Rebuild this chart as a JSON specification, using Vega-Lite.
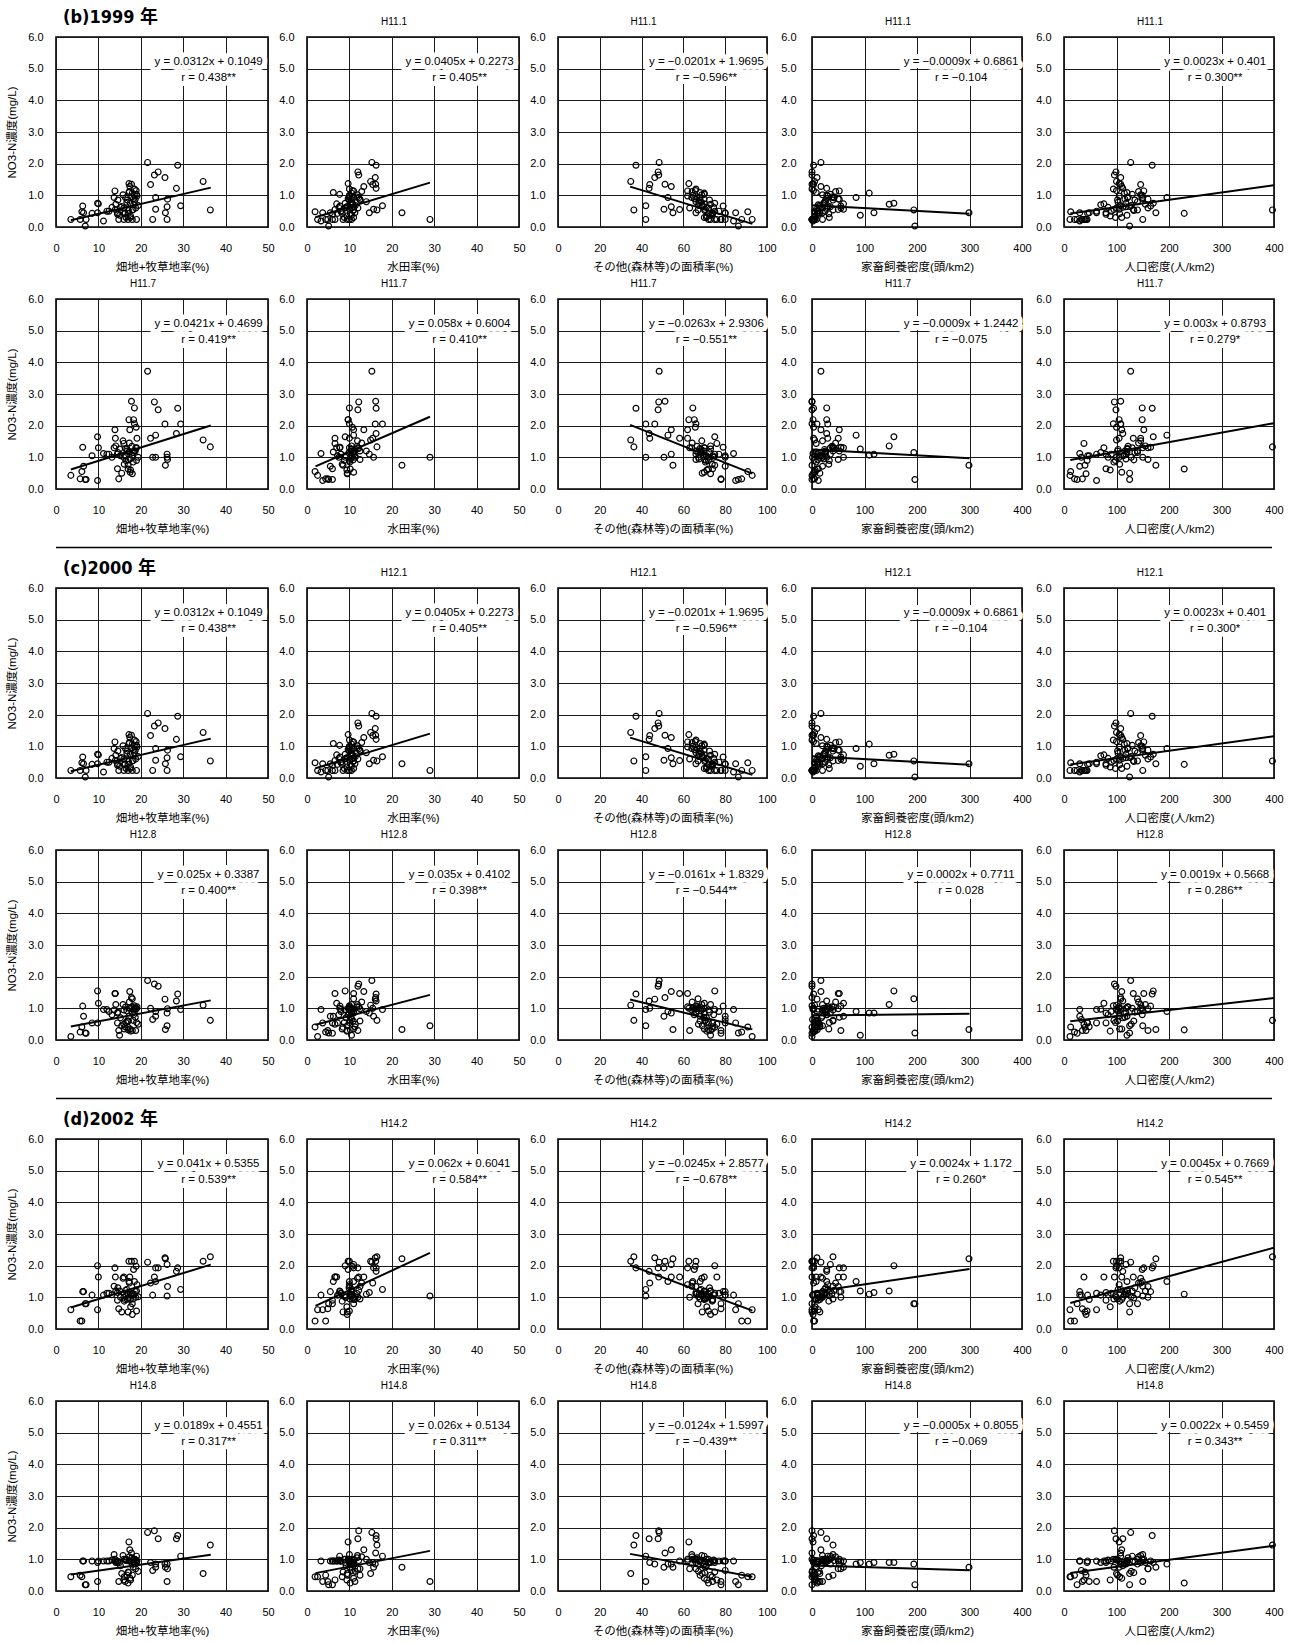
{
"$schema":"https://vega.github.io/schema/vega-lite/v6.json",
"padding":{"left":6,"top":8,"right":4,"bottom":0},
"data":{"values":[
{"f":21.6,"w":15.3,"o":48.4,"l":17,"h":127,"p1":2.04,"p2":3.72,"p3":2.04,"p4":1.88,"p5":2.11,"p6":1.85},
{"f":28.7,"w":16.3,"o":37.3,"l":3,"h":168,"p1":1.95,"p2":2.55,"p3":1.95,"p4":1.45,"p5":1.93,"p6":1.75},
{"f":24.1,"w":12,"o":47.9,"l":0,"h":99,"p1":1.74,"p2":2.5,"p3":1.74,"p4":1.7,"p5":1.93,"p6":1.65},
{"f":23.2,"w":12.2,"o":48.2,"l":0,"h":96,"p1":1.64,"p2":2.75,"p3":1.64,"p4":1.77,"p5":1.64,"p6":1.9},
{"f":25.7,"w":16.1,"o":46.3,"l":9.5,"h":108,"p1":1.56,"p2":2.05,"p3":1.56,"p4":1.29,"p5":2.25,"p6":0.85},
{"f":34.7,"w":15,"o":34.8,"l":5,"h":100,"p1":1.44,"p2":1.55,"p3":1.44,"p4":1.1,"p5":2.14,"p6":0.55},
{"f":36.4,"w":16.5,"o":36.3,"l":40,"h":397,"p1":0.54,"p2":1.33,"p3":0.54,"p4":0.62,"p5":2.28,"p6":1.45},
{"f":22.3,"w":15.5,"o":43.9,"l":3,"h":146,"p1":1.34,"p2":1.6,"p3":1.34,"p4":1.0,"p5":1.45,"p6":0.9},
{"f":28.4,"w":16.3,"o":43.6,"l":28,"h":112,"p1":1.22,"p2":1.75,"p3":1.22,"p4":1.23,"p5":1.82,"p6":1.65},
{"f":29.4,"w":17.8,"o":42,"l":30,"h":108,"p1":0.67,"p2":2.05,"p3":0.67,"p4":0.96,"p5":1.25,"p6":1.1},
{"f":26.2,"w":29,"o":42,"l":20,"h":150,"p1":0.24,"p2":1.0,"p3":0.24,"p4":0.45,"p5":1.04,"p6":0.3},
{"f":25.8,"w":22.4,"o":55,"l":299,"h":175,"p1":0.45,"p2":0.75,"p3":0.45,"p4":0.33,"p5":2.22,"p6":0.75},
{"f":17,"w":10.2,"o":72,"l":10,"h":229,"p1":0.43,"p2":0.63,"p3":0.43,"p4":0.32,"p5":1.1,"p6":0.25},
{"f":6.9,"w":5.1,"o":86.3,"l":196,"h":125,"p1":0.03,"p2":0.3,"p3":0.03,"p4":0.22,"p5":0.8,"p6":0.2},
{"f":18,"w":11,"o":67,"l":194,"h":140,"p1":0.54,"p2":1.15,"p3":0.54,"p4":1.3,"p5":0.8,"p6":0.85},
{"f":14.1,"w":10.5,"o":73,"l":147,"h":155,"p1":0.72,"p2":1.36,"p3":0.72,"p4":1.12,"p5":1.2,"p6":0.9},
{"f":9.8,"w":9,"o":75,"l":156,"h":170,"p1":0.75,"p2":1.65,"p3":0.75,"p4":1.55,"p5":2.0,"p6":0.9},
{"f":23.5,"w":11,"o":52.6,"l":84,"h":196,"p1":0.93,"p2":1.7,"p3":0.93,"p4":0.9,"p5":1.5,"p6":0.85},
{"f":15,"w":10.5,"o":73,"l":92,"h":120,"p1":0.37,"p2":1.26,"p3":0.37,"p4":0.15,"p5":1.2,"p6":0.9},
{"f":18,"w":10.5,"o":70,"l":109,"h":115,"p1":1.07,"p2":1.07,"p3":1.07,"p4":0.85,"p5":1.1,"p6":0.85},
{"f":14.5,"w":14.7,"o":66,"l":118,"h":80,"p1":0.45,"p2":1.1,"p3":0.45,"p4":0.85,"p5":1.15,"p6":0.9},
{"f":17.2,"w":9.7,"o":62.6,"l":2,"h":105,"p1":1.37,"p2":2.19,"p3":1.37,"p4":1.0,"p5":2.14,"p6":1.55},
{"f":17.4,"w":13.4,"o":54.2,"l":17,"h":110,"p1":1.28,"p2":1.87,"p3":1.28,"p4":1.53,"p5":1.64,"p6":1.3},
{"f":13.9,"w":11,"o":62,"l":52,"h":152,"p1":1.14,"p2":1.87,"p3":1.14,"p4":1.47,"p5":1.93,"p6":1.0},
{"f":17.2,"w":6.2,"o":68,"l":8,"h":120,"p1":1.09,"p2":1.17,"p3":1.09,"p4":0.75,"p5":1.5,"p6":0.95},
{"f":19,"w":7.7,"o":70,"l":35,"h":130,"p1":1.03,"p2":1.3,"p3":1.03,"p4":1.0,"p5":1.2,"p6":1.1},
{"f":19.1,"w":10,"o":62,"l":30,"h":105,"p1":0.98,"p2":1.6,"p3":0.98,"p4":1.05,"p5":1.4,"p6":0.95},
{"f":13.7,"w":10,"o":64,"l":40,"h":150,"p1":0.93,"p2":1.3,"p3":0.93,"p4":0.95,"p5":1.35,"p6":1.15},
{"f":26.3,"w":12.5,"o":66,"l":50,"h":160,"p1":0.88,"p2":0.93,"p3":0.88,"p4":0.99,"p5":1.34,"p6":0.7},
{"f":18.5,"w":14,"o":66,"l":25,"h":140,"p1":0.8,"p2":1.2,"p3":0.8,"p4":0.9,"p5":1.1,"p6":1.0},
{"f":6.3,"w":7.8,"o":79,"l":55,"h":165,"p1":0.66,"p2":1.32,"p3":0.66,"p4":1.07,"p5":1.18,"p6":0.95},
{"f":26.2,"w":11,"o":54.2,"l":35,"h":118,"p1":0.64,"p2":1.1,"p3":0.64,"p4":0.85,"p5":2.04,"p6":0.85},
{"f":16,"w":9,"o":72,"l":20,"h":100,"p1":0.6,"p2":1.0,"p3":0.6,"p4":0.95,"p5":1.0,"p6":1.0},
{"f":23.5,"w":15.7,"o":50.7,"l":60,"h":105,"p1":0.56,"p2":1.0,"p3":0.56,"p4":0.75,"p5":1.93,"p6":0.75},
{"f":12.5,"w":8,"o":77,"l":10,"h":90,"p1":0.5,"p2":1.1,"p3":0.5,"p4":0.9,"p5":1.13,"p6":0.95},
{"f":6.1,"w":1.9,"o":90.8,"l":5,"h":12.7,"p1":0.48,"p2":0.55,"p3":0.48,"p4":0.41,"p5":0.25,"p6":0.45},
{"f":9.8,"w":3.7,"o":85,"l":12,"h":62,"p1":0.45,"p2":0.27,"p3":0.45,"p4":0.54,"p5":0.61,"p6":0.3},
{"f":14.5,"w":6,"o":74,"l":12,"h":80,"p1":0.4,"p2":0.64,"p3":0.4,"p4":0.54,"p5":0.91,"p6":0.95},
{"f":17.5,"w":11,"o":70,"l":6,"h":110,"p1":0.3,"p2":0.53,"p3":0.3,"p4":0.35,"p5":0.93,"p6":0.4},
{"f":3.5,"w":2.5,"o":92.9,"l":0,"h":11.4,"p1":0.24,"p2":0.43,"p3":0.24,"p4":0.11,"p5":0.61,"p6":0.45},
{"f":5.7,"w":4.4,"o":87.9,"l":3,"h":20,"p1":0.24,"p2":0.32,"p3":0.24,"p4":0.25,"p5":0.25,"p6":0.5},
{"f":7.1,"w":6,"o":78,"l":0,"h":25,"p1":0.24,"p2":0.3,"p3":0.24,"p4":0.21,"p5":0.8,"p6":0.2},
{"f":11.2,"w":3.3,"o":84,"l":2,"h":30,"p1":0.19,"p2":1.12,"p3":0.19,"p4":0.96,"p5":1.07,"p6":0.95},
{"f":14.8,"w":4.9,"o":78,"l":5,"h":35,"p1":0.24,"p2":0.32,"p3":0.24,"p4":0.3,"p5":0.64,"p6":0.3},
{"f":16,"w":6.6,"o":76,"l":8,"h":38,"p1":0.24,"p2":1.44,"p3":0.24,"p4":0.5,"p5":1.64,"p6":0.35},
{"f":17,"w":8.5,"o":75,"l":0,"h":40,"p1":0.24,"p2":0.75,"p3":0.24,"p4":0.4,"p5":0.54,"p6":0.6},
{"f":18,"w":9.5,"o":73,"l":2,"h":42,"p1":0.24,"p2":0.48,"p3":0.24,"p4":0.3,"p5":0.46,"p6":0.5},
{"f":19,"w":10,"o":72,"l":4,"h":44,"p1":0.24,"p2":0.9,"p3":0.24,"p4":0.55,"p5":0.57,"p6":0.9},
{"f":22.8,"w":10.5,"o":80,"l":1,"h":33,"p1":0.24,"p2":1.0,"p3":0.24,"p4":0.65,"p5":1.07,"p6":0.65},
{"f":16.3,"w":11.3,"o":74,"l":15,"h":48,"p1":0.45,"p2":1.05,"p3":0.45,"p4":0.42,"p5":0.93,"p6":0.3},
{"f":18.3,"w":10.8,"o":69,"l":12,"h":70,"p1":0.7,"p2":1.15,"p3":0.7,"p4":0.97,"p5":1.07,"p6":0.9},
{"f":17.8,"w":16.2,"o":51.2,"l":0,"h":108,"p1":1.35,"p2":2.77,"p3":1.35,"p4":1.34,"p5":2.14,"p6":1.2},
{"f":18.5,"w":10,"o":64.5,"l":28,"h":149,"p1":1.0,"p2":2.56,"p3":1.0,"p4":1.0,"p5":1.5,"p6":1.0},
{"f":18.3,"w":9.7,"o":65.2,"l":28,"h":149,"p1":0.9,"p2":2.19,"p3":0.9,"p4":0.8,"p5":1.88,"p6":1.0},
{"f":18.5,"w":10,"o":66,"l":0,"h":94,"p1":1.2,"p2":2.06,"p3":1.2,"p4":1.08,"p5":2.14,"p6":1.0},
{"f":14,"w":6.6,"o":58.2,"l":50,"h":132,"p1":0.55,"p2":1.6,"p3":0.55,"p4":1.47,"p5":1.64,"p6":0.95},
{"f":10,"w":7,"o":70,"l":60,"h":76,"p1":0.73,"p2":1.3,"p3":0.73,"p4":1.16,"p5":1.64,"p6":0.95},
{"f":6.5,"w":5.5,"o":80,"l":20,"h":30,"p1":0.45,"p2":0.72,"p3":0.45,"p4":0.75,"p5":1.18,"p6":0.95},
{"f":12,"w":8,"o":75,"l":25,"h":62,"p1":0.5,"p2":1.1,"p3":0.5,"p4":0.96,"p5":1.13,"p6":0.95},
{"f":16.8,"w":12.5,"o":68,"l":40,"h":102,"p1":0.85,"p2":1.2,"p3":0.85,"p4":0.6,"p5":0.95,"p6":0.5},
{"f":15.5,"w":9.5,"o":69,"l":15,"h":125,"p1":0.65,"p2":0.5,"p3":0.65,"p4":0.45,"p5":0.54,"p6":0.55},
{"f":17.5,"w":10.3,"o":67.5,"l":22,"h":118,"p1":0.75,"p2":0.95,"p3":0.75,"p4":1.0,"p5":1.1,"p6":0.95},
{"f":18.8,"w":12,"o":63,"l":55,"h":160,"p1":0.6,"p2":1.3,"p3":0.6,"p4":0.3,"p5":1.0,"p6":0.7},
{"f":16.5,"w":8.8,"o":71,"l":33,"h":98,"p1":0.3,"p2":0.9,"p3":0.3,"p4":0.55,"p5":1.05,"p6":1.0},
{"f":8.5,"w":7.2,"o":80,"l":10,"h":45,"p1":0.43,"p2":1.05,"p3":0.43,"p4":0.54,"p5":1.07,"p6":0.95},
{"f":15.2,"w":9.2,"o":71,"l":18,"h":112,"p1":0.62,"p2":1.05,"p3":0.62,"p4":0.7,"p5":1.0,"p6":0.8},
{"f":16.7,"w":10.6,"o":68.5,"l":24,"h":103,"p1":0.78,"p2":1.25,"p3":0.78,"p4":0.92,"p5":1.25,"p6":0.98},
{"f":17.9,"w":11.8,"o":66.5,"l":38,"h":122,"p1":0.95,"p2":1.35,"p3":0.95,"p4":1.05,"p5":1.12,"p6":1.05},
{"f":18.2,"w":10.1,"o":70.5,"l":8,"h":95,"p1":0.55,"p2":0.85,"p3":0.55,"p4":0.62,"p5":0.95,"p6":0.75},
{"f":14.6,"w":9.9,"o":72.5,"l":26,"h":135,"p1":0.85,"p2":1.15,"p3":0.85,"p4":0.88,"p5":1.3,"p6":0.92},
{"f":17.3,"w":12.9,"o":64.2,"l":45,"h":142,"p1":1.12,"p2":1.45,"p3":1.12,"p4":1.2,"p5":1.45,"p6":1.08},
{"f":19.4,"w":11.4,"o":67.2,"l":14,"h":128,"p1":0.68,"p2":1.0,"p3":0.68,"p4":0.5,"p5":1.02,"p6":0.62},
{"f":16.1,"w":8.3,"o":73.8,"l":32,"h":106,"p1":0.42,"p2":0.78,"p3":0.42,"p4":0.35,"p5":0.88,"p6":0.45},
{"f":18.7,"w":10.4,"o":69.8,"l":52,"h":116,"p1":0.88,"p2":1.2,"p3":0.88,"p4":0.72,"p5":1.18,"p6":0.85},
{"f":17.6,"w":9.4,"o":71.2,"l":6,"h":88,"p1":0.35,"p2":0.6,"p3":0.35,"p4":0.28,"p5":0.7,"p6":0.35},
{"f":15.8,"w":11.9,"o":68.8,"l":20,"h":146,"p1":1.02,"p2":1.52,"p3":1.02,"p4":1.12,"p5":1.6,"p6":1.12},
{"f":18.9,"w":10.7,"o":65.7,"l":3,"h":100,"p1":1.15,"p2":1.95,"p3":1.15,"p4":0.98,"p5":1.98,"p6":0.98},
{"f":13.2,"w":7.5,"o":74.5,"l":28,"h":84,"p1":0.62,"p2":1.0,"p3":0.62,"p4":0.8,"p5":1.08,"p6":0.98},
{"f":17.1,"w":10.9,"o":70.2,"l":11,"h":133,"p1":0.52,"p2":0.92,"p3":0.52,"p4":0.6,"p5":0.98,"p6":0.58},
{"f":16.4,"w":12.2,"o":67.9,"l":42,"h":121,"p1":0.92,"p2":1.28,"p3":0.92,"p4":1.04,"p5":1.22,"p6":0.96},
{"t":"L","f":3.5,"p1":0.214},{"t":"L","f":36.5,"p1":1.244},{"t":"L","w":2,"p1":0.308},{"t":"L","w":29,"p1":1.402},{"t":"L","o":34.5,"p1":1.276},{"t":"L","o":93,"p1":0.1},{"t":"L","l":0,"p1":0.686},{"t":"L","l":300,"p1":0.416},{"t":"L","h":12,"p1":0.429},{"t":"L","h":400,"p1":1.321},
{"t":"L","f":3.5,"p2":0.617},{"t":"L","f":36.5,"p2":2.007},{"t":"L","w":2,"p2":0.716},{"t":"L","w":29,"p2":2.282},{"t":"L","o":34.5,"p2":2.023},{"t":"L","o":93,"p2":0.485},{"t":"L","l":0,"p2":1.244},{"t":"L","l":300,"p2":0.974},{"t":"L","h":12,"p2":0.915},{"t":"L","h":400,"p2":2.079},
{"t":"L","f":3.5,"p3":0.214},{"t":"L","f":36.5,"p3":1.244},{"t":"L","w":2,"p3":0.308},{"t":"L","w":29,"p3":1.402},{"t":"L","o":34.5,"p3":1.276},{"t":"L","o":93,"p3":0.1},{"t":"L","l":0,"p3":0.686},{"t":"L","l":300,"p3":0.416},{"t":"L","h":12,"p3":0.429},{"t":"L","h":400,"p3":1.321},
{"t":"L","f":3.5,"p4":0.426},{"t":"L","f":36.5,"p4":1.251},{"t":"L","w":2,"p4":0.48},{"t":"L","w":29,"p4":1.425},{"t":"L","o":34.5,"p4":1.278},{"t":"L","o":93,"p4":0.336},{"t":"L","l":0,"p4":0.771},{"t":"L","l":300,"p4":0.831},{"t":"L","h":12,"p4":0.59},{"t":"L","h":400,"p4":1.327},
{"t":"L","f":3.5,"p5":0.679},{"t":"L","f":36.5,"p5":2.032},{"t":"L","w":2,"p5":0.728},{"t":"L","w":29,"p5":2.402},{"t":"L","o":34.5,"p5":2.012},{"t":"L","o":93,"p5":0.579},{"t":"L","l":0,"p5":1.172},{"t":"L","l":300,"p5":1.892},{"t":"L","h":12,"p5":0.821},{"t":"L","h":400,"p5":2.567},
{"t":"L","f":3.5,"p6":0.521},{"t":"L","f":36.5,"p6":1.145},{"t":"L","w":2,"p6":0.565},{"t":"L","w":29,"p6":1.267},{"t":"L","o":34.5,"p6":1.172},{"t":"L","o":93,"p6":0.447},{"t":"L","l":0,"p6":0.806},{"t":"L","l":300,"p6":0.656},{"t":"L","h":12,"p6":0.572},{"t":"L","h":400,"p6":1.426},
{"t":"E","v":"f","p1":"y = 0.0312x + 0.1049\nr = 0.438**"},{"t":"E","v":"w","p1":"y = 0.0405x + 0.2273\nr = 0.405**"},{"t":"E","v":"o","p1":"y = −0.0201x + 1.9695\nr = −0.596**"},{"t":"E","v":"l","p1":"y = −0.0009x + 0.6861\nr = −0.104"},{"t":"E","v":"h","p1":"y = 0.0023x + 0.401\nr = 0.300**"},
{"t":"E","v":"f","p2":"y = 0.0421x + 0.4699\nr = 0.419**"},{"t":"E","v":"w","p2":"y = 0.058x + 0.6004\nr = 0.410**"},{"t":"E","v":"o","p2":"y = −0.0263x + 2.9306\nr = −0.551**"},{"t":"E","v":"l","p2":"y = −0.0009x + 1.2442\nr = −0.075"},{"t":"E","v":"h","p2":"y = 0.003x + 0.8793\nr = 0.279*"},
{"t":"E","v":"f","p3":"y = 0.0312x + 0.1049\nr = 0.438**"},{"t":"E","v":"w","p3":"y = 0.0405x + 0.2273\nr = 0.405**"},{"t":"E","v":"o","p3":"y = −0.0201x + 1.9695\nr = −0.596**"},{"t":"E","v":"l","p3":"y = −0.0009x + 0.6861\nr = −0.104"},{"t":"E","v":"h","p3":"y = 0.0023x + 0.401\nr = 0.300*"},
{"t":"E","v":"f","p4":"y = 0.025x + 0.3387\nr = 0.400**"},{"t":"E","v":"w","p4":"y = 0.035x + 0.4102\nr = 0.398**"},{"t":"E","v":"o","p4":"y = −0.0161x + 1.8329\nr = −0.544**"},{"t":"E","v":"l","p4":"y = 0.0002x + 0.7711\nr = 0.028"},{"t":"E","v":"h","p4":"y = 0.0019x + 0.5668\nr = 0.286**"},
{"t":"E","v":"f","p5":"y = 0.041x + 0.5355\nr = 0.539**"},{"t":"E","v":"w","p5":"y = 0.062x + 0.6041\nr = 0.584**"},{"t":"E","v":"o","p5":"y = −0.0245x + 2.8577\nr = −0.678**"},{"t":"E","v":"l","p5":"y = 0.0024x + 1.172\nr = 0.260*"},{"t":"E","v":"h","p5":"y = 0.0045x + 0.7669\nr = 0.545**"},
{"t":"E","v":"f","p6":"y = 0.0189x + 0.4551\nr = 0.317**"},{"t":"E","v":"w","p6":"y = 0.026x + 0.5134\nr = 0.311**"},{"t":"E","v":"o","p6":"y = −0.0124x + 1.5997\nr = −0.439**"},{"t":"E","v":"l","p6":"y = −0.0005x + 0.8055\nr = −0.069"},{"t":"E","v":"h","p6":"y = 0.0022x + 0.5459\nr = 0.343**"},
{"t":"T","p1":"H11.1"},{"t":"T","p2":"H11.7"},{"t":"T","p3":"H12.1"},{"t":"T","p4":"H12.8"},{"t":"T","p5":"H14.2"},{"t":"T","p6":"H14.8"},
{"t":"S","p1":"(b)1999 年"},{"t":"S","p3":"(c)2000 年"},{"t":"S","p5":"(d)2002 年"}
]},
"transform":[{"fold":["p1","p2","p3","p4","p5","p6"],"as":["g","y"]},{"filter":"isValid(datum.y)"}],
"spacing":10,
"vconcat":[
{"transform":[{"filter":{"field":"g","oneOf":["p1","p2"]}}],"spacing":3,"hconcat":[
{"facet":{"row":{"field":"g","header":null}},"spacing":4,"resolve":{"axis":{"x":"independent"}},"spec":{"width":212,"height":190,"layer":[
{"transform":[{"filter":"!datum.t"}],"mark":"point","encoding":{"x":{"field":"f","type":"quantitative","scale":{"domain":[0,50]},"title":"畑地+牧草地率(%)"},"y":{"field":"y","type":"quantitative","scale":{"domain":[0,6]},"axis":{"format":".1f"},"title":"NO3-N濃度(mg/L)"}}},
{"transform":[{"filter":"datum.t=='L'&&isValid(datum.f)"}],"mark":"line","encoding":{"x":{"field":"f","type":"quantitative"},"y":{"field":"y","type":"quantitative"}}},
{"transform":[{"filter":"datum.t=='E'&&datum.v=='f'"}],"mark":{"type":"text","fill":"#fff","stroke":"#fff","strokeWidth":10,"strokeJoin":"round"},"encoding":{"x":{"datum":36},"y":{"datum":5.2},"text":{"field":"y"}}},
{"transform":[{"filter":"datum.t=='E'&&datum.v=='f'"}],"mark":"text","encoding":{"x":{"datum":36},"y":{"datum":5.2},"text":{"field":"y"}}},
{"transform":[{"filter":"datum.t=='T'&&indexof(['p1','p3','p5'],datum.g)<0"}],"mark":{"type":"text","fontSize":10,"dx":-19,"dy":-15},"encoding":{"x":{"datum":25},"y":{"datum":6},"text":{"field":"y"}}},
{"transform":[{"filter":"datum.t=='S'"}],"mark":{"type":"text","font":"Liberation Sans Narrow, DejaVu Sans Condensed, Noto Sans CJK JP","fontSize":18,"fontWeight":"bold","align":"left","dx":7,"dy":-19},"encoding":{"x":{"datum":0},"y":{"datum":6},"text":{"field":"y"}}}]}},
{"facet":{"row":{"field":"g","header":null}},"spacing":4,"resolve":{"axis":{"x":"independent"}},"spec":{"width":212,"height":190,"layer":[
{"transform":[{"filter":"!datum.t"}],"mark":"point","encoding":{"x":{"field":"w","type":"quantitative","scale":{"domain":[0,50]},"title":"水田率(%)"},"y":{"field":"y","type":"quantitative","scale":{"domain":[0,6]},"axis":{"format":".1f"},"title":null}}},
{"transform":[{"filter":"datum.t=='L'&&isValid(datum.w)"}],"mark":"line","encoding":{"x":{"field":"w","type":"quantitative"},"y":{"field":"y","type":"quantitative"}}},
{"transform":[{"filter":"datum.t=='E'&&datum.v=='w'"}],"mark":{"type":"text","fill":"#fff","stroke":"#fff","strokeWidth":10,"strokeJoin":"round"},"encoding":{"x":{"datum":36},"y":{"datum":5.2},"text":{"field":"y"}}},
{"transform":[{"filter":"datum.t=='E'&&datum.v=='w'"}],"mark":"text","encoding":{"x":{"datum":36},"y":{"datum":5.2},"text":{"field":"y"}}},
{"transform":[{"filter":"datum.t=='T'"}],"mark":{"type":"text","fontSize":10,"dx":-19,"dy":-15},"encoding":{"x":{"datum":25},"y":{"datum":6},"text":{"field":"y"}}}]}},
{"facet":{"row":{"field":"g","header":null}},"spacing":4,"resolve":{"axis":{"x":"independent"}},"spec":{"width":209,"height":190,"layer":[
{"transform":[{"filter":"!datum.t"}],"mark":"point","encoding":{"x":{"field":"o","type":"quantitative","scale":{"domain":[0,100]},"title":"その他(森林等)の面積率(%)"},"y":{"field":"y","type":"quantitative","scale":{"domain":[0,6]},"axis":{"format":".1f"},"title":null}}},
{"transform":[{"filter":"datum.t=='L'&&isValid(datum.o)"}],"mark":"line","encoding":{"x":{"field":"o","type":"quantitative"},"y":{"field":"y","type":"quantitative"}}},
{"transform":[{"filter":"datum.t=='E'&&datum.v=='o'"}],"mark":{"type":"text","fill":"#fff","stroke":"#fff","strokeWidth":10,"strokeJoin":"round"},"encoding":{"x":{"datum":71},"y":{"datum":5.2},"text":{"field":"y"}}},
{"transform":[{"filter":"datum.t=='E'&&datum.v=='o'"}],"mark":"text","encoding":{"x":{"datum":71},"y":{"datum":5.2},"text":{"field":"y"}}},
{"transform":[{"filter":"datum.t=='T'"}],"mark":{"type":"text","fontSize":10,"dx":-19,"dy":-15},"encoding":{"x":{"datum":50},"y":{"datum":6},"text":{"field":"y"}}}]}},
{"facet":{"row":{"field":"g","header":null}},"spacing":4,"resolve":{"axis":{"x":"independent"}},"spec":{"width":210,"height":190,"layer":[
{"transform":[{"filter":"!datum.t"}],"mark":"point","encoding":{"x":{"field":"l","type":"quantitative","scale":{"domain":[0,400]},"title":"家畜飼養密度(頭/km2)"},"y":{"field":"y","type":"quantitative","scale":{"domain":[0,6]},"axis":{"format":".1f"},"title":null}}},
{"transform":[{"filter":"datum.t=='L'&&isValid(datum.l)"}],"mark":"line","encoding":{"x":{"field":"l","type":"quantitative"},"y":{"field":"y","type":"quantitative"}}},
{"transform":[{"filter":"datum.t=='E'&&datum.v=='l'"}],"mark":{"type":"text","fill":"#fff","stroke":"#fff","strokeWidth":10,"strokeJoin":"round"},"encoding":{"x":{"datum":284},"y":{"datum":5.2},"text":{"field":"y"}}},
{"transform":[{"filter":"datum.t=='E'&&datum.v=='l'"}],"mark":"text","encoding":{"x":{"datum":284},"y":{"datum":5.2},"text":{"field":"y"}}},
{"transform":[{"filter":"datum.t=='T'"}],"mark":{"type":"text","fontSize":10,"dx":-19,"dy":-15},"encoding":{"x":{"datum":200},"y":{"datum":6},"text":{"field":"y"}}}]}},
{"facet":{"row":{"field":"g","header":null}},"spacing":4,"resolve":{"axis":{"x":"independent"}},"spec":{"width":210,"height":190,"layer":[
{"transform":[{"filter":"!datum.t"}],"mark":"point","encoding":{"x":{"field":"h","type":"quantitative","scale":{"domain":[0,400]},"title":"人口密度(人/km2)"},"y":{"field":"y","type":"quantitative","scale":{"domain":[0,6]},"axis":{"format":".1f"},"title":null}}},
{"transform":[{"filter":"datum.t=='L'&&isValid(datum.h)"}],"mark":"line","encoding":{"x":{"field":"h","type":"quantitative"},"y":{"field":"y","type":"quantitative"}}},
{"transform":[{"filter":"datum.t=='E'&&datum.v=='h'"}],"mark":{"type":"text","fill":"#fff","stroke":"#fff","strokeWidth":10,"strokeJoin":"round"},"encoding":{"x":{"datum":288},"y":{"datum":5.2},"text":{"field":"y"}}},
{"transform":[{"filter":"datum.t=='E'&&datum.v=='h'"}],"mark":"text","encoding":{"x":{"datum":288},"y":{"datum":5.2},"text":{"field":"y"}}},
{"transform":[{"filter":"datum.t=='T'"}],"mark":{"type":"text","fontSize":10,"dx":-19,"dy":-15},"encoding":{"x":{"datum":200},"y":{"datum":6},"text":{"field":"y"}}}]}}
]},
{"data":{"values":[{"k":0}]},"width":1216,"height":1,"view":{"stroke":null},"mark":{"type":"rule","color":"#000","strokeWidth":1.3},"encoding":{"y":{"field":"k","type":"quantitative","axis":null}}},
{"transform":[{"filter":{"field":"g","oneOf":["p3","p4"]}}],"spacing":3,"hconcat":[
{"facet":{"row":{"field":"g","header":null}},"spacing":4,"resolve":{"axis":{"x":"independent"}},"spec":{"width":212,"height":190,"layer":[
{"transform":[{"filter":"!datum.t"}],"mark":"point","encoding":{"x":{"field":"f","type":"quantitative","scale":{"domain":[0,50]},"title":"畑地+牧草地率(%)"},"y":{"field":"y","type":"quantitative","scale":{"domain":[0,6]},"axis":{"format":".1f"},"title":"NO3-N濃度(mg/L)"}}},
{"transform":[{"filter":"datum.t=='L'&&isValid(datum.f)"}],"mark":"line","encoding":{"x":{"field":"f","type":"quantitative"},"y":{"field":"y","type":"quantitative"}}},
{"transform":[{"filter":"datum.t=='E'&&datum.v=='f'"}],"mark":{"type":"text","fill":"#fff","stroke":"#fff","strokeWidth":10,"strokeJoin":"round"},"encoding":{"x":{"datum":36},"y":{"datum":5.2},"text":{"field":"y"}}},
{"transform":[{"filter":"datum.t=='E'&&datum.v=='f'"}],"mark":"text","encoding":{"x":{"datum":36},"y":{"datum":5.2},"text":{"field":"y"}}},
{"transform":[{"filter":"datum.t=='T'&&indexof(['p1','p3','p5'],datum.g)<0"}],"mark":{"type":"text","fontSize":10,"dx":-19,"dy":-15},"encoding":{"x":{"datum":25},"y":{"datum":6},"text":{"field":"y"}}},
{"transform":[{"filter":"datum.t=='S'"}],"mark":{"type":"text","font":"Liberation Sans Narrow, DejaVu Sans Condensed, Noto Sans CJK JP","fontSize":18,"fontWeight":"bold","align":"left","dx":7,"dy":-19},"encoding":{"x":{"datum":0},"y":{"datum":6},"text":{"field":"y"}}}]}},
{"facet":{"row":{"field":"g","header":null}},"spacing":4,"resolve":{"axis":{"x":"independent"}},"spec":{"width":212,"height":190,"layer":[
{"transform":[{"filter":"!datum.t"}],"mark":"point","encoding":{"x":{"field":"w","type":"quantitative","scale":{"domain":[0,50]},"title":"水田率(%)"},"y":{"field":"y","type":"quantitative","scale":{"domain":[0,6]},"axis":{"format":".1f"},"title":null}}},
{"transform":[{"filter":"datum.t=='L'&&isValid(datum.w)"}],"mark":"line","encoding":{"x":{"field":"w","type":"quantitative"},"y":{"field":"y","type":"quantitative"}}},
{"transform":[{"filter":"datum.t=='E'&&datum.v=='w'"}],"mark":{"type":"text","fill":"#fff","stroke":"#fff","strokeWidth":10,"strokeJoin":"round"},"encoding":{"x":{"datum":36},"y":{"datum":5.2},"text":{"field":"y"}}},
{"transform":[{"filter":"datum.t=='E'&&datum.v=='w'"}],"mark":"text","encoding":{"x":{"datum":36},"y":{"datum":5.2},"text":{"field":"y"}}},
{"transform":[{"filter":"datum.t=='T'"}],"mark":{"type":"text","fontSize":10,"dx":-19,"dy":-15},"encoding":{"x":{"datum":25},"y":{"datum":6},"text":{"field":"y"}}}]}},
{"facet":{"row":{"field":"g","header":null}},"spacing":4,"resolve":{"axis":{"x":"independent"}},"spec":{"width":209,"height":190,"layer":[
{"transform":[{"filter":"!datum.t"}],"mark":"point","encoding":{"x":{"field":"o","type":"quantitative","scale":{"domain":[0,100]},"title":"その他(森林等)の面積率(%)"},"y":{"field":"y","type":"quantitative","scale":{"domain":[0,6]},"axis":{"format":".1f"},"title":null}}},
{"transform":[{"filter":"datum.t=='L'&&isValid(datum.o)"}],"mark":"line","encoding":{"x":{"field":"o","type":"quantitative"},"y":{"field":"y","type":"quantitative"}}},
{"transform":[{"filter":"datum.t=='E'&&datum.v=='o'"}],"mark":{"type":"text","fill":"#fff","stroke":"#fff","strokeWidth":10,"strokeJoin":"round"},"encoding":{"x":{"datum":71},"y":{"datum":5.2},"text":{"field":"y"}}},
{"transform":[{"filter":"datum.t=='E'&&datum.v=='o'"}],"mark":"text","encoding":{"x":{"datum":71},"y":{"datum":5.2},"text":{"field":"y"}}},
{"transform":[{"filter":"datum.t=='T'"}],"mark":{"type":"text","fontSize":10,"dx":-19,"dy":-15},"encoding":{"x":{"datum":50},"y":{"datum":6},"text":{"field":"y"}}}]}},
{"facet":{"row":{"field":"g","header":null}},"spacing":4,"resolve":{"axis":{"x":"independent"}},"spec":{"width":210,"height":190,"layer":[
{"transform":[{"filter":"!datum.t"}],"mark":"point","encoding":{"x":{"field":"l","type":"quantitative","scale":{"domain":[0,400]},"title":"家畜飼養密度(頭/km2)"},"y":{"field":"y","type":"quantitative","scale":{"domain":[0,6]},"axis":{"format":".1f"},"title":null}}},
{"transform":[{"filter":"datum.t=='L'&&isValid(datum.l)"}],"mark":"line","encoding":{"x":{"field":"l","type":"quantitative"},"y":{"field":"y","type":"quantitative"}}},
{"transform":[{"filter":"datum.t=='E'&&datum.v=='l'"}],"mark":{"type":"text","fill":"#fff","stroke":"#fff","strokeWidth":10,"strokeJoin":"round"},"encoding":{"x":{"datum":284},"y":{"datum":5.2},"text":{"field":"y"}}},
{"transform":[{"filter":"datum.t=='E'&&datum.v=='l'"}],"mark":"text","encoding":{"x":{"datum":284},"y":{"datum":5.2},"text":{"field":"y"}}},
{"transform":[{"filter":"datum.t=='T'"}],"mark":{"type":"text","fontSize":10,"dx":-19,"dy":-15},"encoding":{"x":{"datum":200},"y":{"datum":6},"text":{"field":"y"}}}]}},
{"facet":{"row":{"field":"g","header":null}},"spacing":4,"resolve":{"axis":{"x":"independent"}},"spec":{"width":210,"height":190,"layer":[
{"transform":[{"filter":"!datum.t"}],"mark":"point","encoding":{"x":{"field":"h","type":"quantitative","scale":{"domain":[0,400]},"title":"人口密度(人/km2)"},"y":{"field":"y","type":"quantitative","scale":{"domain":[0,6]},"axis":{"format":".1f"},"title":null}}},
{"transform":[{"filter":"datum.t=='L'&&isValid(datum.h)"}],"mark":"line","encoding":{"x":{"field":"h","type":"quantitative"},"y":{"field":"y","type":"quantitative"}}},
{"transform":[{"filter":"datum.t=='E'&&datum.v=='h'"}],"mark":{"type":"text","fill":"#fff","stroke":"#fff","strokeWidth":10,"strokeJoin":"round"},"encoding":{"x":{"datum":288},"y":{"datum":5.2},"text":{"field":"y"}}},
{"transform":[{"filter":"datum.t=='E'&&datum.v=='h'"}],"mark":"text","encoding":{"x":{"datum":288},"y":{"datum":5.2},"text":{"field":"y"}}},
{"transform":[{"filter":"datum.t=='T'"}],"mark":{"type":"text","fontSize":10,"dx":-19,"dy":-15},"encoding":{"x":{"datum":200},"y":{"datum":6},"text":{"field":"y"}}}]}}
]},
{"data":{"values":[{"k":0}]},"width":1216,"height":1,"view":{"stroke":null},"mark":{"type":"rule","color":"#000","strokeWidth":1.3},"encoding":{"y":{"field":"k","type":"quantitative","axis":null}}},
{"transform":[{"filter":{"field":"g","oneOf":["p5","p6"]}}],"spacing":3,"hconcat":[
{"facet":{"row":{"field":"g","header":null}},"spacing":4,"resolve":{"axis":{"x":"independent"}},"spec":{"width":212,"height":190,"layer":[
{"transform":[{"filter":"!datum.t"}],"mark":"point","encoding":{"x":{"field":"f","type":"quantitative","scale":{"domain":[0,50]},"title":"畑地+牧草地率(%)"},"y":{"field":"y","type":"quantitative","scale":{"domain":[0,6]},"axis":{"format":".1f"},"title":"NO3-N濃度(mg/L)"}}},
{"transform":[{"filter":"datum.t=='L'&&isValid(datum.f)"}],"mark":"line","encoding":{"x":{"field":"f","type":"quantitative"},"y":{"field":"y","type":"quantitative"}}},
{"transform":[{"filter":"datum.t=='E'&&datum.v=='f'"}],"mark":{"type":"text","fill":"#fff","stroke":"#fff","strokeWidth":10,"strokeJoin":"round"},"encoding":{"x":{"datum":36},"y":{"datum":5.2},"text":{"field":"y"}}},
{"transform":[{"filter":"datum.t=='E'&&datum.v=='f'"}],"mark":"text","encoding":{"x":{"datum":36},"y":{"datum":5.2},"text":{"field":"y"}}},
{"transform":[{"filter":"datum.t=='T'&&indexof(['p1','p3','p5'],datum.g)<0"}],"mark":{"type":"text","fontSize":10,"dx":-19,"dy":-15},"encoding":{"x":{"datum":25},"y":{"datum":6},"text":{"field":"y"}}},
{"transform":[{"filter":"datum.t=='S'"}],"mark":{"type":"text","font":"Liberation Sans Narrow, DejaVu Sans Condensed, Noto Sans CJK JP","fontSize":18,"fontWeight":"bold","align":"left","dx":7,"dy":-19},"encoding":{"x":{"datum":0},"y":{"datum":6},"text":{"field":"y"}}}]}},
{"facet":{"row":{"field":"g","header":null}},"spacing":4,"resolve":{"axis":{"x":"independent"}},"spec":{"width":212,"height":190,"layer":[
{"transform":[{"filter":"!datum.t"}],"mark":"point","encoding":{"x":{"field":"w","type":"quantitative","scale":{"domain":[0,50]},"title":"水田率(%)"},"y":{"field":"y","type":"quantitative","scale":{"domain":[0,6]},"axis":{"format":".1f"},"title":null}}},
{"transform":[{"filter":"datum.t=='L'&&isValid(datum.w)"}],"mark":"line","encoding":{"x":{"field":"w","type":"quantitative"},"y":{"field":"y","type":"quantitative"}}},
{"transform":[{"filter":"datum.t=='E'&&datum.v=='w'"}],"mark":{"type":"text","fill":"#fff","stroke":"#fff","strokeWidth":10,"strokeJoin":"round"},"encoding":{"x":{"datum":36},"y":{"datum":5.2},"text":{"field":"y"}}},
{"transform":[{"filter":"datum.t=='E'&&datum.v=='w'"}],"mark":"text","encoding":{"x":{"datum":36},"y":{"datum":5.2},"text":{"field":"y"}}},
{"transform":[{"filter":"datum.t=='T'"}],"mark":{"type":"text","fontSize":10,"dx":-19,"dy":-15},"encoding":{"x":{"datum":25},"y":{"datum":6},"text":{"field":"y"}}}]}},
{"facet":{"row":{"field":"g","header":null}},"spacing":4,"resolve":{"axis":{"x":"independent"}},"spec":{"width":209,"height":190,"layer":[
{"transform":[{"filter":"!datum.t"}],"mark":"point","encoding":{"x":{"field":"o","type":"quantitative","scale":{"domain":[0,100]},"title":"その他(森林等)の面積率(%)"},"y":{"field":"y","type":"quantitative","scale":{"domain":[0,6]},"axis":{"format":".1f"},"title":null}}},
{"transform":[{"filter":"datum.t=='L'&&isValid(datum.o)"}],"mark":"line","encoding":{"x":{"field":"o","type":"quantitative"},"y":{"field":"y","type":"quantitative"}}},
{"transform":[{"filter":"datum.t=='E'&&datum.v=='o'"}],"mark":{"type":"text","fill":"#fff","stroke":"#fff","strokeWidth":10,"strokeJoin":"round"},"encoding":{"x":{"datum":71},"y":{"datum":5.2},"text":{"field":"y"}}},
{"transform":[{"filter":"datum.t=='E'&&datum.v=='o'"}],"mark":"text","encoding":{"x":{"datum":71},"y":{"datum":5.2},"text":{"field":"y"}}},
{"transform":[{"filter":"datum.t=='T'"}],"mark":{"type":"text","fontSize":10,"dx":-19,"dy":-15},"encoding":{"x":{"datum":50},"y":{"datum":6},"text":{"field":"y"}}}]}},
{"facet":{"row":{"field":"g","header":null}},"spacing":4,"resolve":{"axis":{"x":"independent"}},"spec":{"width":210,"height":190,"layer":[
{"transform":[{"filter":"!datum.t"}],"mark":"point","encoding":{"x":{"field":"l","type":"quantitative","scale":{"domain":[0,400]},"title":"家畜飼養密度(頭/km2)"},"y":{"field":"y","type":"quantitative","scale":{"domain":[0,6]},"axis":{"format":".1f"},"title":null}}},
{"transform":[{"filter":"datum.t=='L'&&isValid(datum.l)"}],"mark":"line","encoding":{"x":{"field":"l","type":"quantitative"},"y":{"field":"y","type":"quantitative"}}},
{"transform":[{"filter":"datum.t=='E'&&datum.v=='l'"}],"mark":{"type":"text","fill":"#fff","stroke":"#fff","strokeWidth":10,"strokeJoin":"round"},"encoding":{"x":{"datum":284},"y":{"datum":5.2},"text":{"field":"y"}}},
{"transform":[{"filter":"datum.t=='E'&&datum.v=='l'"}],"mark":"text","encoding":{"x":{"datum":284},"y":{"datum":5.2},"text":{"field":"y"}}},
{"transform":[{"filter":"datum.t=='T'"}],"mark":{"type":"text","fontSize":10,"dx":-19,"dy":-15},"encoding":{"x":{"datum":200},"y":{"datum":6},"text":{"field":"y"}}}]}},
{"facet":{"row":{"field":"g","header":null}},"spacing":4,"resolve":{"axis":{"x":"independent"}},"spec":{"width":210,"height":190,"layer":[
{"transform":[{"filter":"!datum.t"}],"mark":"point","encoding":{"x":{"field":"h","type":"quantitative","scale":{"domain":[0,400]},"title":"人口密度(人/km2)"},"y":{"field":"y","type":"quantitative","scale":{"domain":[0,6]},"axis":{"format":".1f"},"title":null}}},
{"transform":[{"filter":"datum.t=='L'&&isValid(datum.h)"}],"mark":"line","encoding":{"x":{"field":"h","type":"quantitative"},"y":{"field":"y","type":"quantitative"}}},
{"transform":[{"filter":"datum.t=='E'&&datum.v=='h'"}],"mark":{"type":"text","fill":"#fff","stroke":"#fff","strokeWidth":10,"strokeJoin":"round"},"encoding":{"x":{"datum":288},"y":{"datum":5.2},"text":{"field":"y"}}},
{"transform":[{"filter":"datum.t=='E'&&datum.v=='h'"}],"mark":"text","encoding":{"x":{"datum":288},"y":{"datum":5.2},"text":{"field":"y"}}},
{"transform":[{"filter":"datum.t=='T'"}],"mark":{"type":"text","fontSize":10,"dx":-19,"dy":-15},"encoding":{"x":{"datum":200},"y":{"datum":6},"text":{"field":"y"}}}]}}
]}
],
"config":{
"font":"Liberation Sans, Noto Sans CJK JP",
"view":{"stroke":"#000","strokeWidth":1.6},
"axis":{"grid":true,"gridColor":"#1a1a1a","gridWidth":1,"gridOpacity":1,"domain":false,"ticks":false,"tickSize":0,"tickCount":5,"labelFont":"Liberation Sans","labelFontSize":11,"labelColor":"#000","labelFlush":false,"titleFont":"Liberation Sans, Noto Sans CJK JP","titleFontSize":11.5,"titleFontWeight":"normal","titleColor":"#000"},
"axisX":{"labelPadding":15,"titlePadding":8},
"axisY":{"labelPadding":9,"titlePadding":10},
"point":{"shape":"circle","filled":false,"size":34,"color":"#000","strokeWidth":1.2,"opacity":1},
"line":{"color":"#000","strokeWidth":2},
"text":{"font":"Liberation Sans","fontSize":11.5,"color":"#000","align":"center","baseline":"middle","lineBreak":"\n","lineHeight":16}
}
}
